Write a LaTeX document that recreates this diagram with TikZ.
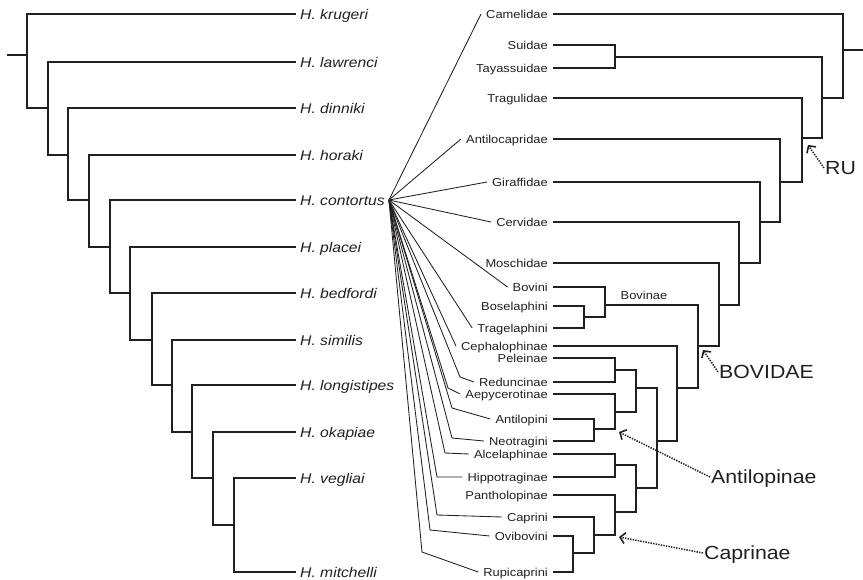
\documentclass[tikz,border=0pt]{standalone}
\usepackage{fontspec}
\setmainfont{Liberation Sans}[FakeStretch=1.12]
\usetikzlibrary{calc,arrows.meta}
\definecolor{ink}{HTML}{231F20}

\begin{document}
\begin{tikzpicture}[x=1pt,y=-1pt,color=ink,
    branch/.style={line width=2.8pt},
    fan/.style={line width=0.85pt},
    worm/.style={font=\fontsize{14}{16}\selectfont\itshape,anchor=west,
        inner xsep=4pt,inner ysep=0pt,text height=10pt,text depth=0pt},
    host/.style={font=\fontsize{11.5}{13}\selectfont,anchor=east,
        inner xsep=5pt,inner ysep=0pt,text height=8.2pt,text depth=0pt},
    clade/.style={font=\fontsize{19}{22}\selectfont,anchor=west,
        inner sep=1pt,text height=13.6pt,text depth=0pt},
    pointer/.style={line width=1.5pt,dash pattern=on 1.4pt off 1.2pt,
        -{Straight Barb[length=5pt,width=11pt,line width=1.6pt]}}]
    \useasboundingbox (0,0) rectangle (863,579);

    % Haemonchus tree
    \node[worm] (kru) at (296,14)  {H. krugeri};
    \node[worm] (law) at (296,62)  {H. lawrenci};
    \node[worm] (din) at (296,108) {H. dinniki};
    \node[worm] (hor) at (296,155) {H. horaki};
    \node[worm] (con) at (296,200) {H. contortus};
    \node[worm] (pla) at (296,247) {H. placei};
    \node[worm] (bed) at (296,293) {H. bedfordi};
    \node[worm] (sim) at (296,340) {H. similis};
    \node[worm] (lon) at (296,385) {H. longistipes};
    \node[worm] (oka) at (296,432) {H. okapiae};
    \node[worm] (veg) at (296,478) {H. vegliai};
    \node[worm] (mit) at (296,572) {H. mitchelli};
    \coordinate (lroot) at (7,55);
    \coordinate (n1) at (27,55);
    \coordinate (n2) at (48,108);
    \coordinate (n3) at (68,155);
    \coordinate (n4) at (89,200);
    \coordinate (n5) at (110,247);
    \coordinate (n6) at (130,293);
    \coordinate (n7) at (152,340);
    \coordinate (n8) at (172,385);
    \coordinate (n9) at (192,432);
    \coordinate (n10) at (213,478);
    \coordinate (n11) at (234,525);
    \draw[branch] (lroot) -- (n1);
    \foreach \lf/\nd/\ch in {kru/n1/n2,law/n2/n3,din/n3/n4,hor/n4/n5,
        con/n5/n6,pla/n6/n7,bed/n7/n8,sim/n8/n9,lon/n9/n10,oka/n10/n11,
        veg/n11/mit.west}
        \draw[branch] (\lf.west) -| (\nd) |- (\ch);

    % host tree
    \node[host] (cam) at (553,14)  {Camelidae};
    \node[host] (sui) at (553,45)  {Suidae};
    \node[host] (tay) at (553,68)  {Tayassuidae};
    \node[host] (tra) at (553,98)  {Tragulidae};
    \node[host] (ant) at (553,139) {Antilocapridae};
    \node[host] (gir) at (553,182) {Giraffidae};
    \node[host] (cer) at (553,222) {Cervidae};
    \node[host] (mos) at (553,263) {Moschidae};
    \node[host] (bov) at (553,287) {Bovini};
    \node[host] (bos) at (553,306) {Boselaphini};
    \node[host] (trg) at (553,328) {Tragelaphini};
    \node[host] (cep) at (553,346) {Cephalophinae};
    \node[host] (pel) at (553,358) {Peleinae};
    \node[host] (red) at (553,382) {Reduncinae};
    \node[host] (aep) at (553,394) {Aepycerotinae};
    \node[host] (atl) at (553,419) {Antilopini};
    \node[host] (neo) at (553,441) {Neotragini};
    \node[host] (alc) at (553,454) {Alcelaphinae};
    \node[host] (hip) at (553,477) {Hippotraginae};
    \node[host] (pan) at (553,495) {Pantholopinae};
    \node[host] (cap) at (553,517) {Caprini};
    \node[host] (ovi) at (553,536) {Ovibovini};
    \node[host] (rup) at (553,572) {Rupicaprini};
    \coordinate (rroot) at (863,50);
    \coordinate (r0) at (843,50);
    \coordinate (r_sr) at (822,98);
    \coordinate (r_ts) at (615,57);
    \coordinate (r_ru) at (802,138);
    \coordinate (r_pec) at (780,182);
    \coordinate (r5) at (760,222);
    \coordinate (r6) at (739,263);
    \coordinate (r7) at (719,305);
    \coordinate (r_bov) at (698,346);
    \coordinate (r_bvn) at (605,305);
    \coordinate (r_bt) at (584,317);
    \coordinate (r_a) at (677,388);
    \coordinate (r_b) at (657,441);
    \coordinate (r_c) at (636,388);
    \coordinate (r_d) at (636,488);
    \coordinate (r_pr) at (615,370);
    \coordinate (r_e) at (615,412);
    \coordinate (r_an) at (594,429);
    \coordinate (r_ah) at (615,465);
    \coordinate (r_f) at (615,512);
    \coordinate (r_g) at (594,535);
    \coordinate (r_h) at (573,553);
    \draw[branch] (r0) -- (rroot);
    \foreach \up/\nd/\dn in {cam.east/r0/r_sr,r_ts/r_sr/r_ru,sui.east/r_ts/tay.east,
        tra.east/r_ru/r_pec,ant.east/r_pec/r5,gir.east/r5/r6,cer.east/r6/r7,
        mos.east/r7/r_bov,r_bvn/r_bov/r_a,bov.east/r_bvn/r_bt,bos.east/r_bt/trg.east,
        cep.east/r_a/r_b,r_c/r_b/r_d,r_pr/r_c/r_e,pel.east/r_pr/red.east,
        aep.east/r_e/r_an,atl.east/r_an/neo.east,r_ah/r_d/r_f,
        alc.east/r_ah/hip.east,pan.east/r_f/r_g,cap.east/r_g/r_h,
        ovi.east/r_h/rup.east}
        \draw[branch] (\up) -| (\nd) |- (\dn);
    \node[host,anchor=center] (bvlab) at (644,295) {Bovinae};

    % H. contortus hosts
    \foreach \t in {cam,ant,gir,cer,bov,trg,cep}
        \draw[fan] (con.east) -- (\t.west);
    \foreach \t/\e in {red/{460,377},aep/{448,388},atl/{452,408},neo/{452,438},
        alc/{445,453},hip/{437,477},cap/{437,515},ovi/{430,530},rup/{422,552}}
        \draw[fan] (con.east) -- (\e) -- (\t.west);

    % clade tags
    \node[clade] (ru) at (824,168) {RU};
    \node[clade] (bovidae) at (718,372) {BOVIDAE};
    \node[clade] (antilopinae) at (710,477) {Antilopinae};
    \node[clade] (caprinae) at (703,553) {Caprinae};
    \draw[pointer] (ru.west) -- ($(r_ru)+(6,7)$);
    \draw[pointer] (bovidae.west) -- ($(r_bov)+(5,4)$);
    \draw[pointer] (antilopinae.west) -- ($(r_an)+(25,3)$);
    \draw[pointer] (caprinae.west) -- ($(r_g)+(25,2)$);
\end{tikzpicture}
\end{document}
